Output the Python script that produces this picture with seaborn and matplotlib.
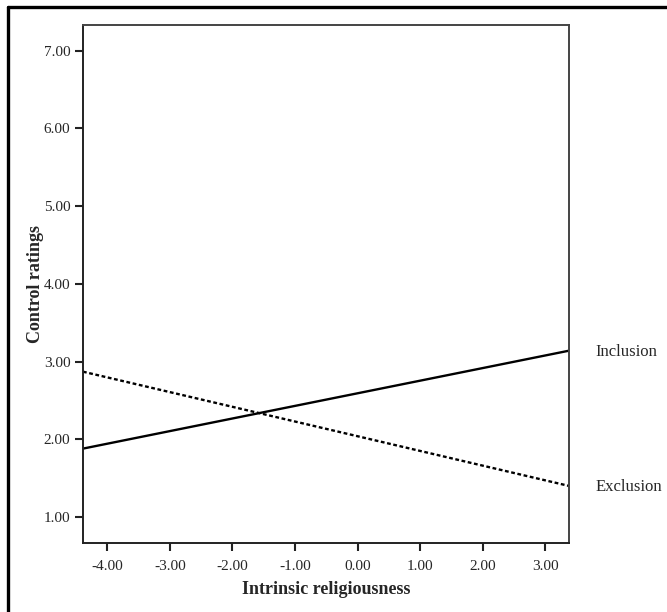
import pandas as pd
import numpy as np
import matplotlib
matplotlib.use("Agg")
import matplotlib.pyplot as plt
import seaborn as sns
from matplotlib.lines import Line2D

# values (simple slopes at the axis ends)
x_ends = [-4.39, 3.38]
inclusion = [1.88, 3.14]
exclusion = [2.87, 1.40]
groups = ["Inclusion", "Exclusion"]

x_ticks = [-4, -3, -2, -1, 0, 1, 2, 3]
y_ticks = [1, 2, 3, 4, 5, 6, 7]

df = pd.DataFrame({
    "x": x_ends * 2,
    "y": inclusion + exclusion,
    "group": [groups[0]] * 2 + [groups[1]] * 2,
})

sns.set_style("white")
plt.rcParams["font.family"] = ["Liberation Serif", "DejaVu Serif"]

fig = plt.figure(figsize=(6.67, 6.12), dpi=100)
ax = fig.add_axes([0.1244, 0.1127, 0.853 - 0.1244, 0.959 - 0.1127])

sns.lineplot(data=df, x="x", y="y", style="group", color="black",
             dashes={"Inclusion": "", "Exclusion": (1.6, 1.1)},
             linewidth=1.7, legend=False, ax=ax)

ax.set_xlim(-4.39, 3.38)
ax.set_ylim(0.665, 7.33)
ax.set_xticks(x_ticks)
ax.set_xticklabels([f"{v:.2f}" for v in x_ticks])
ax.set_yticks(y_ticks)
ax.set_yticklabels([f"{v:.2f}" for v in y_ticks])
ax.tick_params(axis="both", direction="out", length=6, width=1.5,
               color="#222222", labelsize=11, pad=3, left=True, bottom=True)
ax.tick_params(axis="x", pad=6)

for side, sp in ax.spines.items():
    sp.set_visible(True)
    sp.set_linewidth(1.4)
    sp.set_color("#444444" if side in ("top", "right") else "#222222")

ax.set_xlabel("Intrinsic religiousness", fontsize=13, fontweight="bold", labelpad=6)
ax.set_ylabel("Control ratings", fontsize=13, fontweight="bold", labelpad=0)

# group labels next to the line ends
for name, vals in zip(groups, [inclusion, exclusion]):
    ax.annotate(name, xy=(x_ends[1], vals[1]), xytext=(19, -1),
                textcoords="offset points", ha="left", va="center",
                fontsize=12, annotation_clip=False)

# outer frame (left and top edges)
fig.add_artist(Line2D([8 / 667, 8 / 667], [0, 1 - 7 / 612],
                      transform=fig.transFigure, color="black", linewidth=2.4))
fig.add_artist(Line2D([8 / 667, 1], [1 - 7 / 612, 1 - 7 / 612],
                      transform=fig.transFigure, color="black", linewidth=2.4))

fig.savefig("out.png", dpi=100, facecolor="white")
